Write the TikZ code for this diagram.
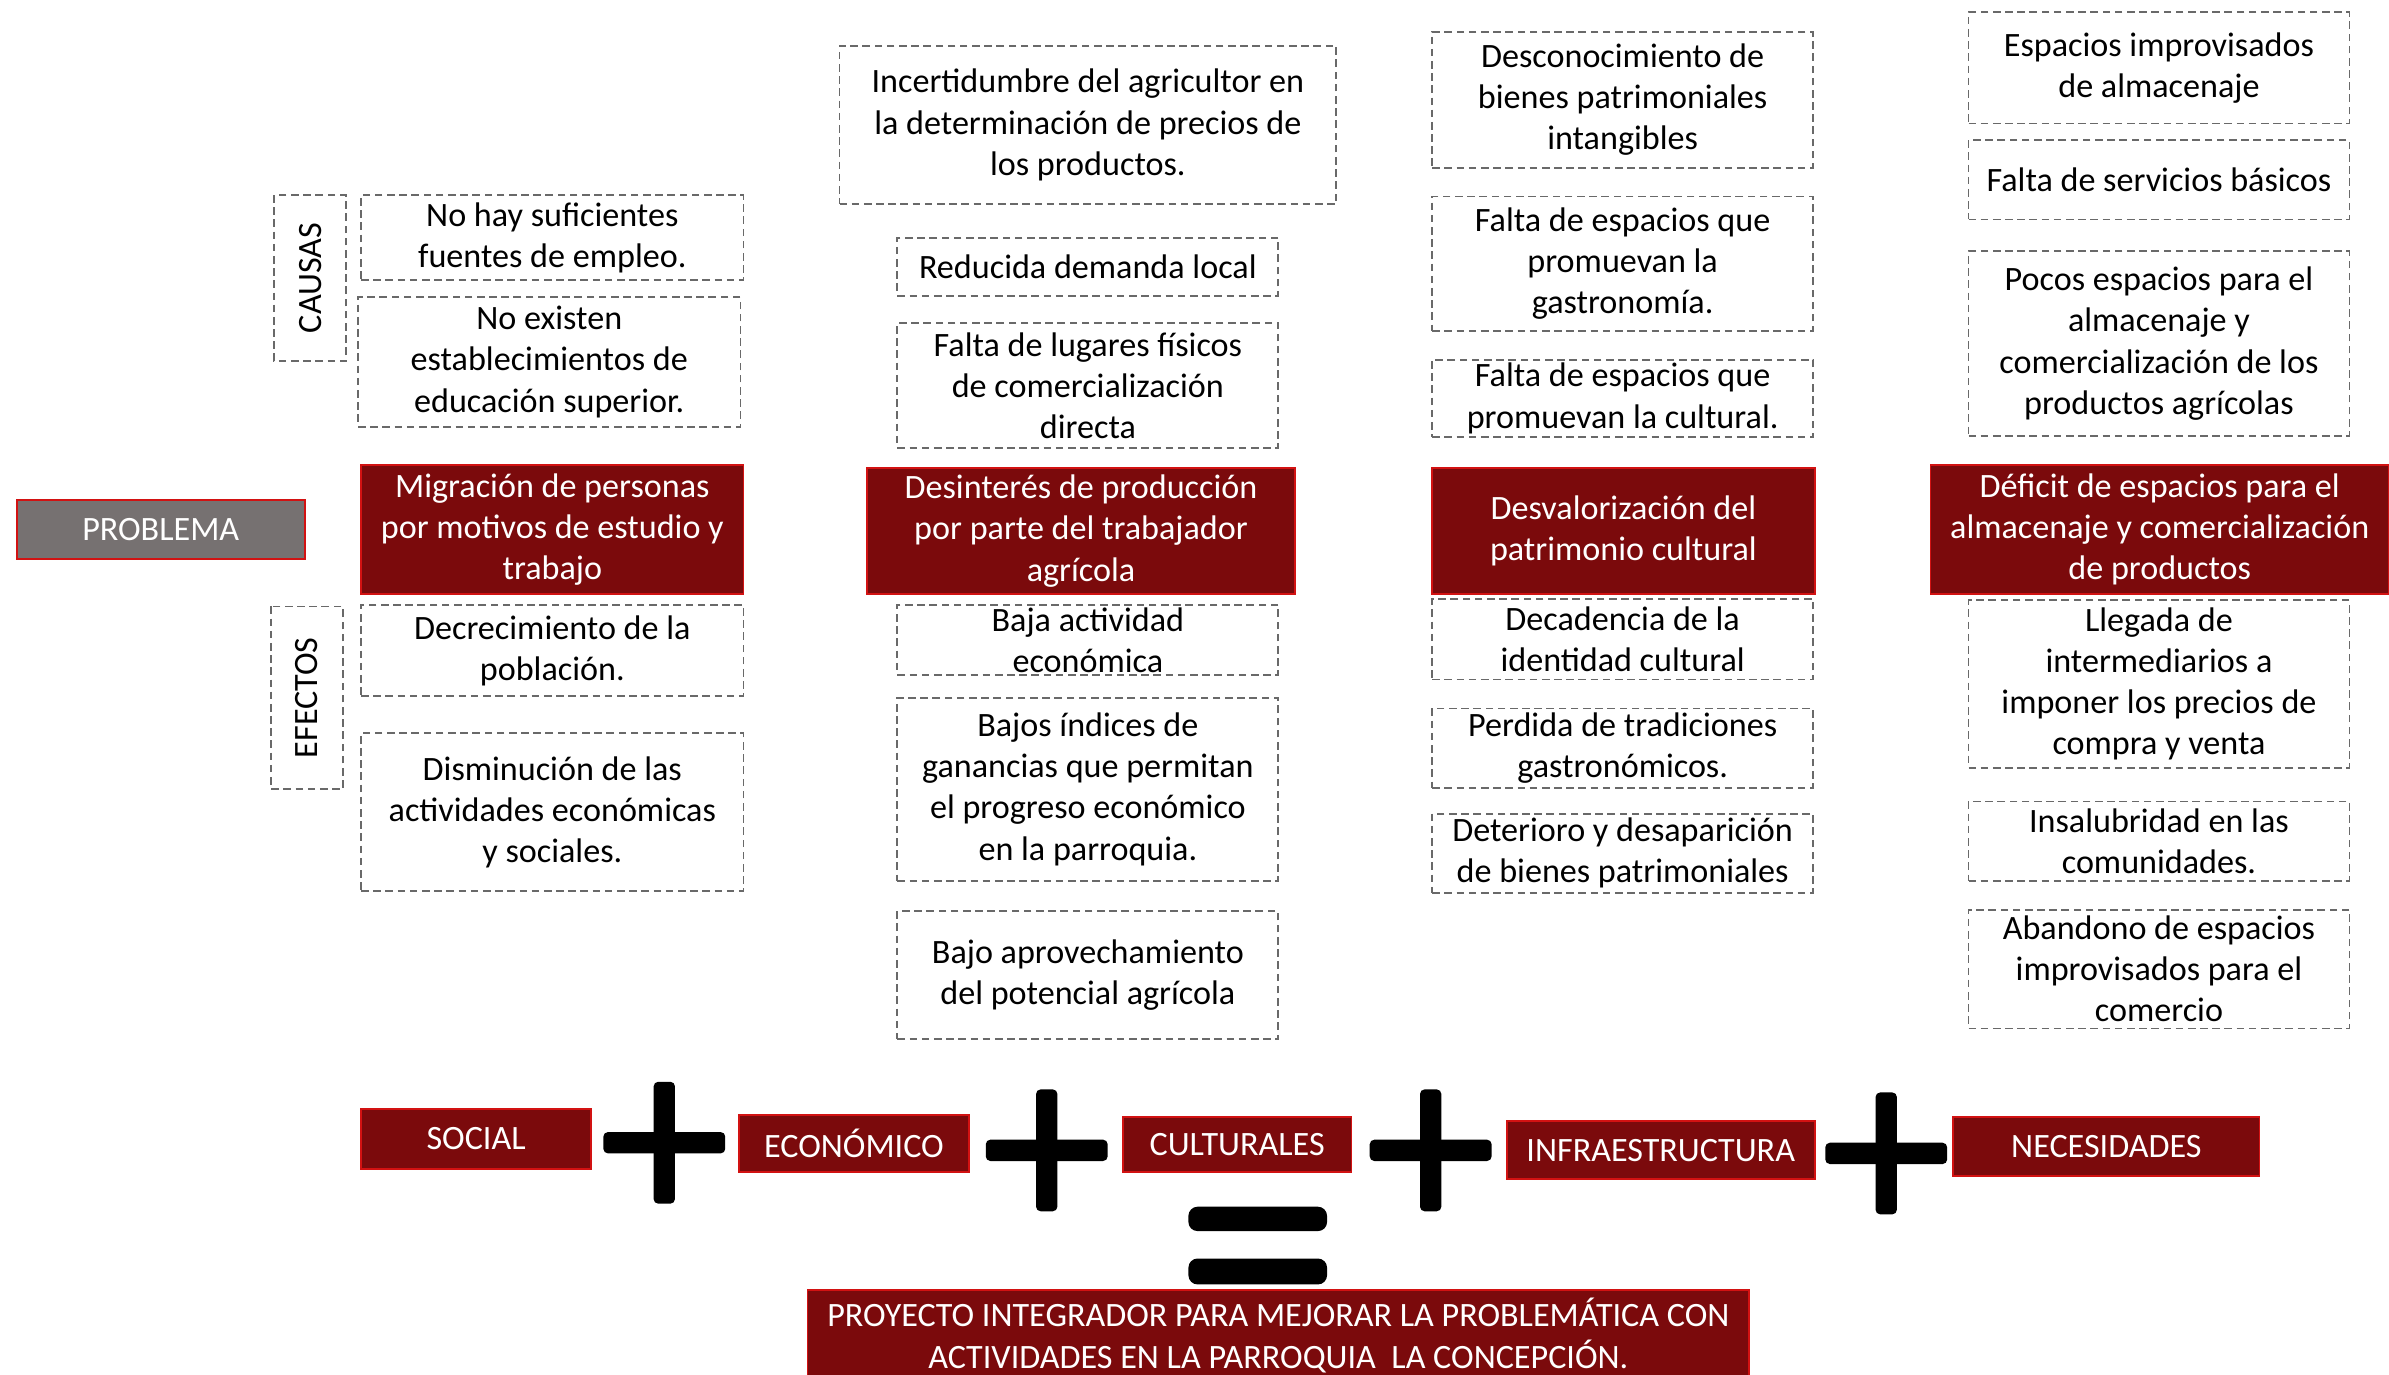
\documentclass[tikz,border=0pt]{standalone}
\usepackage{fontspec}
\setmainfont{Carlito}

\definecolor{rojo}{RGB}{123,10,12}
\definecolor{rojoborde}{RGB}{210,18,18}
\definecolor{gris}{RGB}{118,113,113}
\definecolor{guion}{RGB}{105,105,105}
\newcommand{\texto}{\fontsize{11.2}{13.5}\selectfont}

\tikzset{
  caja/.style={draw=guion, dash pattern=on 2.5pt off 1.5pt, line width=0.6pt,
    align=center, inner sep=0pt, font=\texto},
  central/.style={fill=rojo, draw=rojoborde, line width=0.6pt, text=white,
    align=center, inner sep=0pt, font=\texto},
  etiqueta/.style={caja, rotate=90},
  suma/.style={rounded corners=1.5pt}
}

\begin{document}
\begin{tikzpicture}[x=0.5pt, y=-0.5pt]
    \useasboundingbox (0,0) rectangle (1568,902);
    \clip (0,0) rectangle (1568,902);

% problema
\node[central, fill=gris, minimum width=94.5pt, minimum height=19.5pt] (problema) at (105.5,347.5) {PROBLEMA};
\node[etiqueta, minimum width=54.5pt, minimum height=23.5pt] (causas) at (203.5,182.5) {CAUSAS};
\node[etiqueta, minimum width=60pt, minimum height=23.5pt] (efectos) at (201.5,458) {EFECTOS};

% social
\node[caja, minimum width=125.5pt, minimum height=28pt] (c1a) at (362.5,156) {No hay suficientes\\fuentes de empleo.};
\node[caja, minimum width=125.5pt, minimum height=42.5pt] (c1b) at (360.5,237.5) {No existen\\establecimientos de\\educación superior.};
\node[central, minimum width=125.5pt, minimum height=42.5pt] (p1) at (362.5,347.5) {Migración de personas\\por motivos de estudio y\\trabajo};
\node[caja, minimum width=125.5pt, minimum height=30pt] (e1a) at (362.5,427) {Decrecimiento de la\\población.};
\node[caja, minimum width=125.5pt, minimum height=52pt] (e1b) at (362.5,533) {Disminución de las\\actividades económicas\\y sociales.};

% economico
\node[caja, minimum width=163pt, minimum height=52pt] (c2a) at (714,82) {Incertidumbre del agricultor en\\la determinación de precios de\\los productos.};
\node[caja, minimum width=125pt, minimum height=19pt] (c2b) at (714,175) {Reducida demanda local};
\node[caja, minimum width=125pt, minimum height=41pt] (c2c) at (714,253) {Falta de lugares físicos\\de comercialización\\directa};
\node[central, minimum width=140.5pt, minimum height=41.5pt] (p2) at (709.5,348.5) {Desinterés de producción\\por parte del trabajador\\agrícola};
\node[caja, minimum width=125pt, minimum height=23pt] (e2a) at (714,420) {Baja actividad\\económica};
\node[caja, minimum width=125pt, minimum height=60pt] (e2b) at (714,518) {Bajos índices de\\ganancias que permitan\\el progreso económico\\en la parroquia.};
\node[caja, minimum width=125pt, minimum height=42pt] (e2c) at (714,640) {Bajo aprovechamiento\\del potencial agrícola};

% cultural
\node[caja, minimum width=125pt, minimum height=44.5pt] (c3a) at (1065,65.5) {Desconocimiento de\\bienes patrimoniales\\intangibles};
\node[caja, minimum width=125pt, minimum height=44pt] (c3b) at (1065,173) {Falta de espacios que\\promuevan la\\gastronomía.};
\node[caja, minimum width=125pt, minimum height=25.5pt] (c3c) at (1065,261.5) {Falta de espacios que\\promuevan la cultural.};
\node[central, minimum width=125.5pt, minimum height=41.5pt] (p3) at (1065.5,348.5) {Desvalorización del\\patrimonio cultural};
\node[caja, minimum width=125pt, minimum height=26.5pt] (e3a) at (1065,419.5) {Decadencia de la\\identidad cultural};
\node[caja, minimum width=125pt, minimum height=26pt] (e3b) at (1065,491) {Perdida de tradiciones\\gastronómicos.};
\node[caja, minimum width=125pt, minimum height=26pt] (e3c) at (1065,560) {Deterioro y desaparición\\de bienes patrimoniales};

% infraestructura
\node[caja, minimum width=125pt, minimum height=36.5pt] (c4a) at (1417,44.5) {Espacios improvisados\\de almacenaje};
\node[caja, minimum width=125pt, minimum height=26pt] (c4b) at (1417,118) {Falta de servicios básicos};
\node[caja, minimum width=125pt, minimum height=60.5pt] (c4c) at (1417,225.5) {Pocos espacios para el\\almacenaje y\\comercialización de los\\productos agrícolas};
\node[central, minimum width=150.5pt, minimum height=42.5pt] (p4) at (1417.5,347.5) {Déficit de espacios para el\\almacenaje y comercialización\\de productos};
\node[caja, minimum width=125pt, minimum height=55pt] (e4a) at (1417,449) {Llegada de\\intermediarios a\\imponer los precios de\\compra y venta};
\node[caja, minimum width=125pt, minimum height=26pt] (e4b) at (1417,552) {Insalubridad en las\\comunidades.};
\node[caja, minimum width=125pt, minimum height=39pt] (e4c) at (1417,636) {Abandono de espacios\\improvisados para el\\comercio};

% suma de ejes
\node[central, minimum width=75.5pt, minimum height=19.5pt] (social) at (312.5,747.5) {SOCIAL};
\node[central, minimum width=75.5pt, minimum height=18.5pt] (economico) at (560.5,750.5) {ECONÓMICO};
\node[central, minimum width=75pt, minimum height=18pt] (culturales) at (812,751) {CULTURALES};
\node[central, minimum width=101pt, minimum height=19pt] (infra) at (1090,755) {INFRAESTRUCTURA};
\node[central, minimum width=100.5pt, minimum height=19.5pt] (necesidades) at (1382.5,752.5) {NECESIDADES};

\foreach \x/\y in {436/750, 687/755, 939/755, 1238/757} {
  \fill[suma] (\x-7,\y-40) rectangle (\x+7,\y+40);
  \fill[suma] (\x-40,\y-7) rectangle (\x+40,\y+7);
}
\fill[rounded corners=3pt] (780,792) rectangle (871,808);
\fill[rounded corners=3pt] (780,826) rectangle (871,843);

\node[central, minimum width=309pt, minimum height=30pt] (proyecto) at (839,876.5) {PROYECTO INTEGRADOR PARA MEJORAR LA PROBLEMÁTICA CON\\ACTIVIDADES EN LA PARROQUIA \ LA CONCEPCIÓN.};
  \end{tikzpicture}
\end{document}
